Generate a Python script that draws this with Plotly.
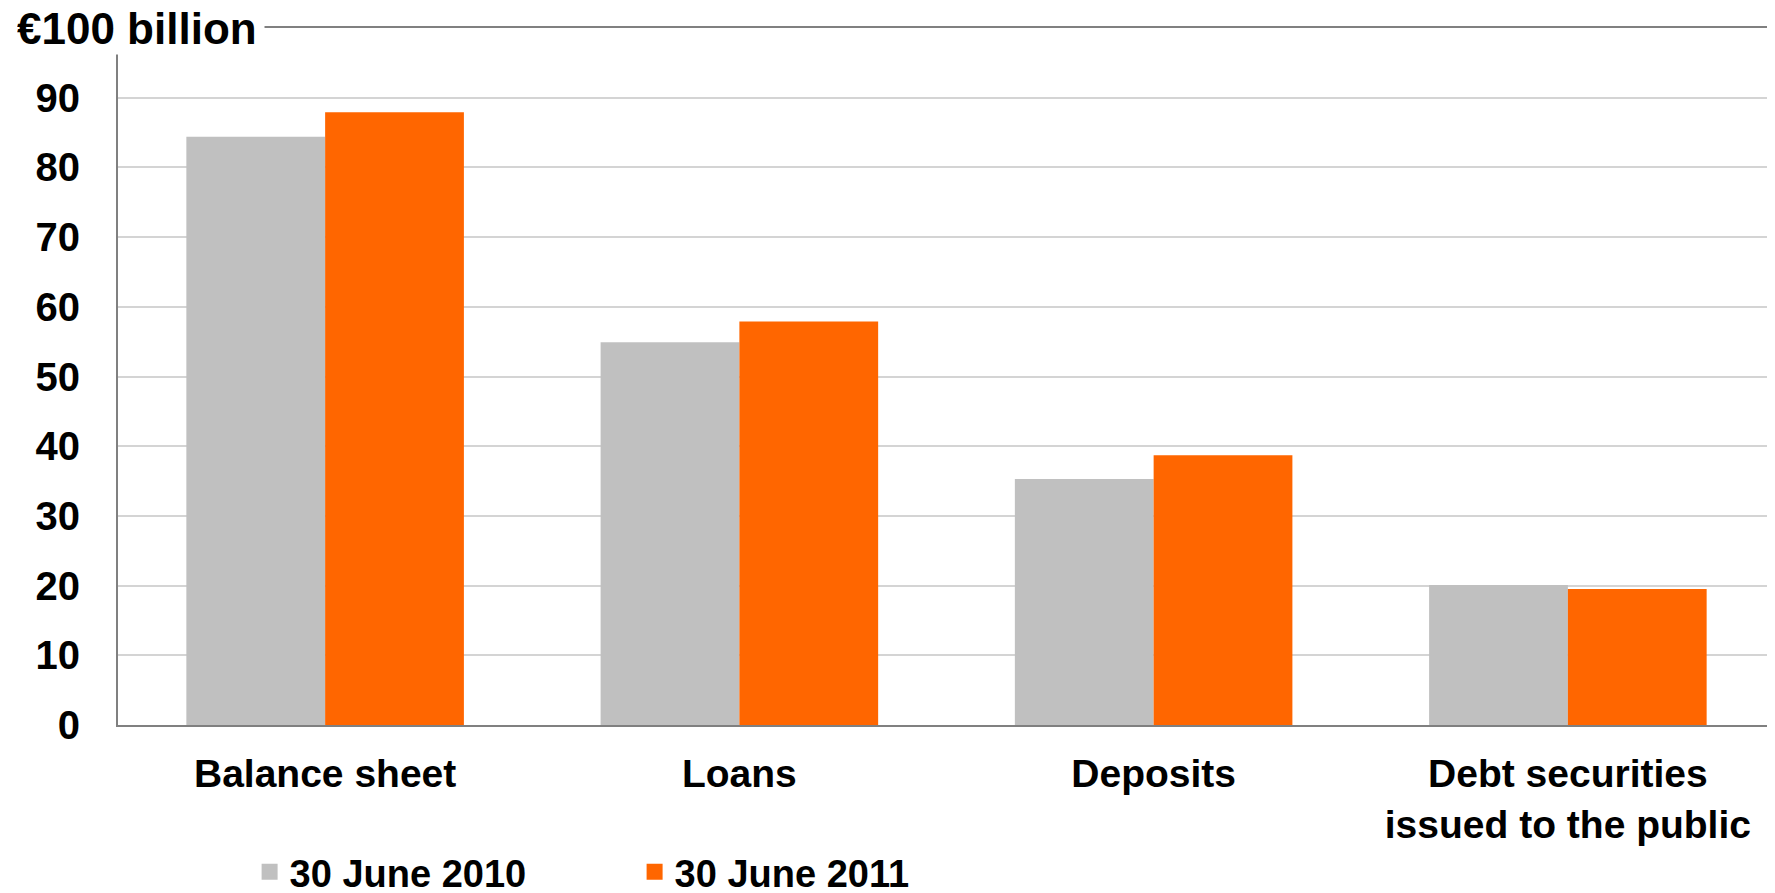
import plotly.graph_objects as go

categories = ["Balance sheet", "Loans", "Deposits", "Debt securities<br>issued to the public"]
series_2010 = [84.4, 54.9, 35.3, 20.1]
series_2011 = [87.9, 57.9, 38.7, 19.5]
series_names = ["30 June 2010", "30 June 2011"]
colors = ["#c0c0c0", "#ff6600"]
y_ticks = [0, 10, 20, 30, 40, 50, 60, 70, 80, 90]
unit_label = "€100 billion"

FONT = "Liberation Sans, Arial, sans-serif"
W, H = 1767, 885  # page body has an 8px margin
L, T, R, B = 110, 20, 0, 168
PW = W - L - R

fig = go.Figure()
for name, vals, col in zip(series_names, [series_2010, series_2011], colors):
    fig.add_trace(go.Bar(x=categories, y=vals, name=name, marker_color=col,
                         marker_line_width=0, showlegend=False))
# legend proxies (square markers)
for name, col in zip(series_names, colors):
    fig.add_trace(go.Scatter(x=[None], y=[None], mode="markers", name=name,
                             marker=dict(symbol="square", size=16, color=col),
                             showlegend=True))

fig.update_layout(
    width=W, height=H,
    margin=dict(l=L, r=R, t=T, b=B, autoexpand=False),
    paper_bgcolor="white", plot_bgcolor="white",
    barmode="group", bargap=0.33, bargroupgap=0,
    font=dict(family=FONT, color="black"),
    showlegend=True,
    legend=dict(orientation="h", xref="container", yref="container",
                x=241.6 / W, y=21 / H, xanchor="left", yanchor="middle",
                font=dict(size=38, family=FONT, weight="bold"),
                entrywidth=340, entrywidthmode="pixels",
                bgcolor="rgba(0,0,0,0)"),
)
fig.update_xaxes(showline=True, linecolor="#808080", linewidth=2, mirror=True,
                 showgrid=False, ticks="", automargin=False, ticklabelstandoff=13,
                 tickfont=dict(size=39, family=FONT, weight="bold", color="black"))
fig.update_yaxes(range=[0, 100], tickvals=y_ticks, showline=True, linecolor="#808080",
                 linewidth=2, showgrid=True, gridcolor="#d4d4d4", gridwidth=2,
                 zeroline=False, ticks="", ticklabelstandoff=28, automargin=False,
                 tickfont=dict(size=40, family=FONT, weight="bold", color="black"))

fig.add_annotation(text=unit_label, xref="paper", yref="paper",
                   x=(7 - L) / PW, y=1, xanchor="left", yanchor="middle",
                   showarrow=False, bgcolor="white", width=246, align="left",
                   font=dict(size=44, family=FONT, weight="bold", color="black"))

fig.write_html("out.html")
